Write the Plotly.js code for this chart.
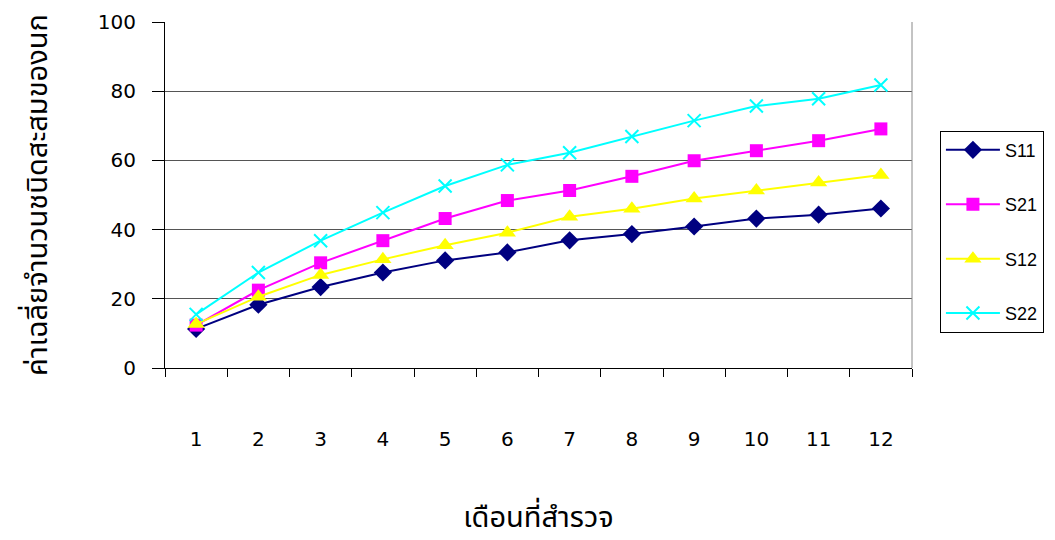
<!DOCTYPE html>
<html>
<head>
<meta charset="utf-8">
<script src="https://cdn.plot.ly/plotly-3.0.1.min.js"></script>
<style>html,body{margin:0;padding:0;background:#fff;}#chart{width:1055px;height:540px;}</style>
</head>
<body>
<div id="chart"></div>
<script>
const months = ['1','2','3','4','5','6','7','8','9','10','11','12'];
const s11 = [11.3, 18.3, 23.4, 27.6, 31.1, 33.4, 36.9, 38.7, 40.9, 43.2, 44.3, 46.1];
const s21 = [12.4, 22.5, 30.4, 36.8, 43.2, 48.4, 51.3, 55.4, 59.9, 62.8, 65.7, 69.1];
const s12 = [12.7, 20.6, 26.9, 31.4, 35.5, 39.1, 43.7, 46.0, 49.0, 51.3, 53.6, 55.8];
const s22 = [15.5, 27.6, 36.8, 44.9, 52.6, 58.7, 62.2, 66.9, 71.5, 75.7, 77.8, 81.8];
const seriesNames = ['S11', 'S21', 'S12', 'S22'];
const yTitle = 'ค่าเฉลี่ยจำนวนชนิดสะสมของนก';
const xTitle = 'เดือนที่สำรวจ';

const thaiFont = 'Tahoma, "Noto Sans Thai", "Noto Sans", "DejaVu Sans", sans-serif';
const numFont = '"DejaVu Sans", sans-serif';

function tr(name, y, color, symbol, size, group) {
  return {
    x: months, y: y, name: name, type: 'scatter', mode: 'lines+markers',
    line: {color: color, width: 2},
    marker: {color: color, symbol: symbol, size: size,
             line: {color: color, width: symbol.indexOf('x') === 0 ? 2 : 0}},
    legendgroup: group
  };
}

const data = [
  tr(seriesNames[0], s11, '#000080', 'diamond', 14, 'a'),
  tr(seriesNames[1], s21, '#FF00FF', 'square', 13, 'b'),
  tr(seriesNames[2], s12, '#FFFF00', 'triangle-up', 15, 'c'),
  tr(seriesNames[3], s22, '#00FFFF', 'x-thin-open', 13, 'd')
];

const layout = {
  width: 1055, height: 540,
  margin: {l: 165, r: 142, t: 22, b: 172},
  paper_bgcolor: '#fff', plot_bgcolor: '#fff',
  showlegend: true,
  legend: {
    x: 1.036, y: 0.686, xanchor: 'left', yanchor: 'top',
    bordercolor: '#000', borderwidth: 1, bgcolor: '#fff',
    font: {family: '"Liberation Sans", Arial, sans-serif', size: 18, color: '#000'},
    tracegroupgap: 28, itemwidth: 54,
    traceorder: 'grouped'
  },
  xaxis: {
    type: 'category', tickson: 'boundaries', range: [-0.5, 11.5], autorange: false,
    showline: true, linecolor: '#000', linewidth: 1,
    ticks: 'outside', ticklen: 8, tickcolor: '#000',
    showgrid: false, zeroline: false,
    ticklabelstandoff: 53,
    tickfont: {family: numFont, size: 20, color: '#000'},
    title: {text: xTitle, font: {family: thaiFont, size: 29, color: '#000'}, standoff: 66}
  },
  yaxis: {
    range: [0, 100], dtick: 20, tick0: 0,
    showline: true, linecolor: '#000', linewidth: 1,
    ticks: 'outside', ticklen: 12, tickcolor: '#000',
    showgrid: true, gridcolor: '#555', gridwidth: 1,
    zeroline: false,
    ticklabelstandoff: 12,
    tickfont: {family: numFont, size: 20, color: '#000'},
    title: {text: yTitle, font: {family: thaiFont, size: 29, color: '#000'}, standoff: 41}
  },
  shapes: [
    {type: 'line', xref: 'paper', yref: 'paper', x0: 1, x1: 1, y0: 0, y1: 1,
     line: {color: '#888', width: 1}}
  ]
};

Plotly.newPlot('chart', data, layout, {displayModeBar: false});
</script>
</body>
</html>
